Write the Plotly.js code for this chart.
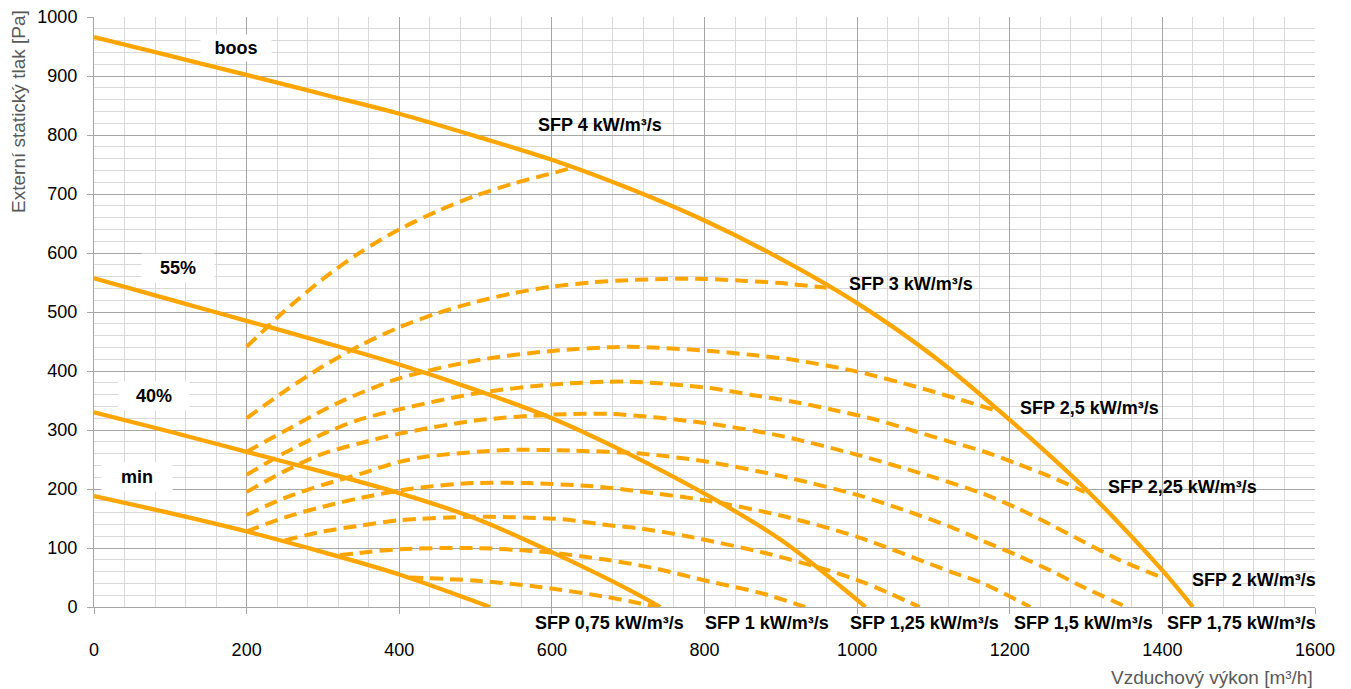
<!DOCTYPE html>
<html>
<head>
<meta charset="utf-8">
<script src="https://cdn.plot.ly/plotly-3.0.1.min.js"></script>
<style>
html,body{margin:0;padding:0;background:#ffffff;}
#chart{width:1351px;height:689px;}
</style>
</head>
<body>
<div id="chart"></div>
<script>
// ---- Fan curves (solid) ----
const boosX = [0, 100, 200, 300, 400, 500, 600, 700, 800, 900, 1000, 1100, 1200, 1300, 1400, 1440];
const boosY = [966, 934, 902, 869, 836, 798, 758, 710, 655, 590, 515, 425, 317, 199, 62, 0];
const p55X = [0, 100, 200, 300, 400, 500, 600, 700, 800, 900, 1000, 1011];
const p55Y = [557, 521, 485, 449, 411, 368, 320, 260, 192, 114, 12, 0];
const p40X = [0, 100, 200, 300, 400, 500, 600, 700, 742];
const p40Y = [330, 297, 263, 229, 193, 150, 93, 30, 0];
const minX = [0, 100, 200, 300, 400, 500, 519];
const minY = [188, 159, 128, 93, 55, 9, 0];

// ---- SFP system curves (dashed) ----
const sfp4X = [200, 250, 300, 350, 400, 450, 500, 550, 600, 628];
const sfp4Y = [441, 502, 556, 602, 640, 671, 697, 718, 735, 745];
const sfp3X = [200, 250, 300, 350, 400, 450, 500, 550, 600, 650, 700, 750, 800, 850, 900, 960];
const sfp3Y = [320, 366, 408, 444, 474, 498, 517, 532, 543, 550, 554, 556, 556, 553, 549, 541];
const sfp25X = [200, 248, 318, 401, 506, 600, 700, 807, 864, 916, 1000, 1078, 1144, 1187];
const sfp25Y = [263, 297, 345, 388, 419, 434, 441, 434, 427, 419, 399, 373, 348, 331];
const sfp225X = [200, 248, 296, 344, 400, 500, 600, 700, 807, 864, 916, 969, 1026, 1078, 1122, 1165, 1209, 1253, 1298];
const sfp225Y = [224, 260, 291, 316, 335, 362, 377, 382, 371, 359, 348, 334, 317, 297, 280, 264, 243, 221, 195];
const sfp2X = [200, 248, 296, 350, 401, 500, 600, 680, 800, 900, 1000, 1100, 1165, 1209, 1253, 1296, 1340, 1401];
const sfp2Y = [195, 229, 258, 278, 294, 316, 326, 327, 312, 290, 258, 220, 192, 168, 140, 111, 82, 49];
const sfp175X = [200, 250, 300, 350, 400, 436, 541, 628, 716, 800, 900, 1000, 1060, 1122, 1165, 1209, 1253, 1296, 1353];
const sfp175Y = [156, 185, 207, 226, 246, 255, 266, 265, 260, 247, 222, 190, 165, 136, 112, 88, 62, 34, 0];
const sfp15X = [200, 250, 300, 350, 418, 497, 563, 650, 702, 800, 900, 1000, 1122, 1165, 1227];
const sfp15Y = [128, 152, 170, 185, 201, 210, 210, 205, 198, 181, 155, 119, 60, 40, 0];
const sfp125X = [250, 300, 344, 400, 497, 550, 611, 672, 716, 777, 881, 960, 1012, 1082];
const sfp125Y = [113, 128, 137, 147, 153, 152, 149, 139, 133, 120, 91, 63, 40, 0];
const sfp1X = [322, 344, 400, 497, 584, 672, 733, 807, 873, 932];
const sfp1Y = [88, 91, 98, 100, 94, 80, 66, 43, 24, 0];
const sfp075X = [414, 497, 584, 672, 716, 737];
const sfp075Y = [50, 45, 34, 17, 6, 0];

const fanCurves = [
  {name: 'boos', x: boosX, y: boosY},
  {name: '55%', x: p55X, y: p55Y},
  {name: '40%', x: p40X, y: p40Y},
  {name: 'min', x: minX, y: minY}
];
const sfpCurves = [
  {name: 'SFP 4', x: sfp4X, y: sfp4Y},
  {name: 'SFP 3', x: sfp3X, y: sfp3Y},
  {name: 'SFP 2,5', x: sfp25X, y: sfp25Y},
  {name: 'SFP 2,25', x: sfp225X, y: sfp225Y},
  {name: 'SFP 2', x: sfp2X, y: sfp2Y},
  {name: 'SFP 1,75', x: sfp175X, y: sfp175Y},
  {name: 'SFP 1,5', x: sfp15X, y: sfp15Y},
  {name: 'SFP 1,25', x: sfp125X, y: sfp125Y},
  {name: 'SFP 1', x: sfp1X, y: sfp1Y},
  {name: 'SFP 0,75', x: sfp075X, y: sfp075Y}
];

const ORANGE = '#FFA500';
const traces = [];
sfpCurves.forEach(c => traces.push({
  type: 'scatter', mode: 'lines', name: c.name, x: c.x, y: c.y,
  line: {color: ORANGE, width: 4, dash: '13px,7px', shape: 'spline', smoothing: 0.8},
  hoverinfo: 'skip', cliponaxis: false
}));
fanCurves.forEach(c => traces.push({
  type: 'scatter', mode: 'lines', name: c.name, x: c.x, y: c.y,
  line: {color: ORANGE, width: 4.3, shape: 'spline', smoothing: 1},
  hoverinfo: 'skip', cliponaxis: false
}));

const FONT = 'Liberation Sans, Arial, sans-serif';
const boxLabel = (text, x, y, w, h) => ({
  text: '<b>' + text + '</b>', x: x, y: y, xref: 'x', yref: 'y', showarrow: false,
  font: {family: FONT, size: 18, color: '#000'}, bgcolor: '#ffffff', width: w, height: h,
  xanchor: 'center', yanchor: 'middle'
});
const sfpLabel = (text, x, y) => ({
  text: '<b>' + text + '</b>', x: x, y: y, xref: 'x', yref: 'y', showarrow: false,
  font: {family: FONT, size: 18, color: '#000'}, xanchor: 'center', yanchor: 'middle'
});
const sfpBottomLabel = (text, x) => ({
  text: '<b>' + text + '</b>', x: x, y: -0.027, xref: 'x', yref: 'paper', showarrow: false,
  font: {family: FONT, size: 18, color: '#000'}, xanchor: 'center', yanchor: 'middle'
});

const annotations = [
  boxLabel('boos', 186, 947, 68, 24),
  boxLabel('55%', 110, 575, 70, 26),
  boxLabel('40%', 79, 358, 68, 26),
  boxLabel('min', 56, 220, 68, 26),
  sfpLabel('SFP 4 kW/m³/s', 663, 817),
  sfpLabel('SFP 3 kW/m³/s', 1071, 547),
  sfpLabel('SFP 2,5 kW/m³/s', 1304, 337),
  sfpLabel('SFP 2,25 kW/m³/s', 1426, 203),
  sfpLabel('SFP 2 kW/m³/s', 1520, 46),
  sfpBottomLabel('SFP 0,75 kW/m³/s', 676),
  sfpBottomLabel('SFP 1 kW/m³/s', 882),
  sfpBottomLabel('SFP 1,25 kW/m³/s', 1088),
  sfpBottomLabel('SFP 1,5 kW/m³/s', 1296),
  sfpBottomLabel('SFP 1,75 kW/m³/s', 1504),
  {text: 'Vzduchový výkon [m³/h]', xref: 'paper', yref: 'paper', x: 1.0, y: -0.12,
   xanchor: 'right', yanchor: 'middle', showarrow: false,
   font: {family: FONT, size: 19, color: '#595959'}},
  {text: 'Externí statický tlak [Pa]', xref: 'paper', yref: 'paper', x: -0.062, y: 1.015,
   xanchor: 'center', yanchor: 'top', textangle: -90, showarrow: false,
   font: {family: FONT, size: 19, color: '#595959'}}
];

const axisCommon = {
  showgrid: true, gridcolor: '#a6a6a6', gridwidth: 1,
  zeroline: false, showline: true, linecolor: '#a6a6a6', linewidth: 1,
  ticks: 'outside', ticklen: 6, tickcolor: '#a6a6a6', tickwidth: 1,
  tickfont: {family: FONT, size: 18, color: '#000'}, fixedrange: true
};

const layout = {
  width: 1351, height: 689,
  margin: {l: 94, r: 36, t: 17, b: 82},
  paper_bgcolor: '#ffffff', plot_bgcolor: '#ffffff',
  showlegend: false, hovermode: false,
  xaxis: Object.assign({}, axisCommon, {
    range: [0, 1600], tick0: 0, dtick: 200, ticklabelstandoff: 20,
    minor: {dtick: 40, showgrid: true, gridcolor: '#d9d9d9', gridwidth: 1, ticks: ''}
  }),
  yaxis: Object.assign({}, axisCommon, {
    range: [0, 1000], tick0: 0, dtick: 100, ticklabelstandoff: 6,
    minor: {dtick: 20, showgrid: true, gridcolor: '#d9d9d9', gridwidth: 1, ticks: ''}
  }),
  annotations: annotations
};

Plotly.newPlot('chart', traces, layout, {displayModeBar: false, staticPlot: true});
</script>
</body>
</html>
